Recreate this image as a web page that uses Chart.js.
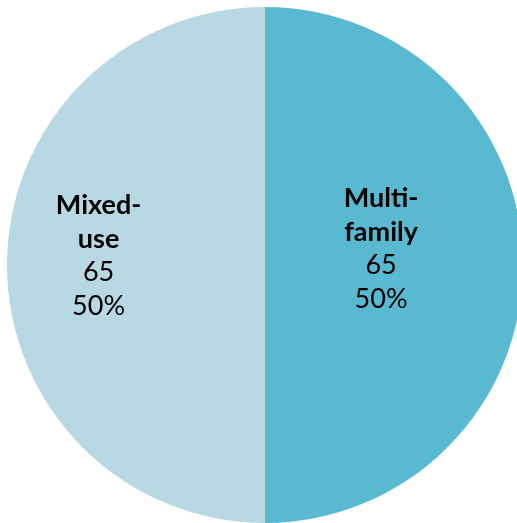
<!DOCTYPE html>
<html>
<head>
<meta charset="utf-8">
<script src="https://cdn.jsdelivr.net/npm/chart.js@4"></script>
<style>
  html, body { margin: 0; padding: 0; background: #fff; overflow: hidden; }
  #wrap { position: relative; width: 530px; height: 523px; }
</style>
</head>
<body>
<div id="wrap"><canvas id="pie"></canvas></div>
<script>
// Building types and their project counts
const categories = ['Multi-family', 'Mixed-use'];
const labelLines = [['Multi-', 'family'], ['Mixed-', 'use']];
const counts = [65, 65];
const sliceColors = ['#59B9D1', '#B8D8E3'];

// Writes the category (bold), count and share inside each slice
const sliceLabels = {
  id: 'sliceLabels',
  afterDatasetsDraw(chart, args, opts) {
    const ctx = chart.ctx;
    const meta = chart.getDatasetMeta(0);
    const values = chart.data.datasets[0].data;
    const total = values.reduce((a, b) => a + b, 0);
    meta.data.forEach((arc, i) => {
      const mid = (arc.startAngle + arc.endAngle) / 2;
      const place = opts.place[i];
      const cx = arc.x + Math.cos(mid) * arc.outerRadius * place.r;
      const top = arc.y + place.dy;
      const lines = labelLines[i].map(t => ({ t, bold: true }))
        .concat([{ t: String(values[i]), bold: false },
                 { t: Math.round(values[i] / total * 100) + '%', bold: false }]);
      ctx.save();
      ctx.fillStyle = '#000';
      ctx.textAlign = 'center';
      ctx.textBaseline = 'alphabetic';
      lines.forEach((ln, k) => {
        ctx.font = (ln.bold ? 'bold ' : '') + opts.size + 'px Lato, "Open Sans", sans-serif';
        ctx.fillText(ln.t, cx, top + k * opts.lineHeight);
      });
      ctx.restore();
    });
  }
};

new Chart(document.getElementById('pie'), {
  type: 'pie',
  data: {
    labels: categories,
    datasets: [{
      data: counts,
      backgroundColor: sliceColors,
      borderWidth: 0
    }]
  },
  options: {
    responsive: true,
    maintainAspectRatio: false,
    animation: false,
    layout: { padding: { left: 7, right: 7, top: 7, bottom: 0 } },
    plugins: {
      legend: { display: false },
      tooltip: { enabled: false },
      sliceLabels: {
        size: 27,
        lineHeight: 33.5,
        place: [{ r: 0.45, dy: -58 }, { r: 0.645, dy: -51 }]
      }
    }
  },
  plugins: [sliceLabels]
});
</script>
</body>
</html>
